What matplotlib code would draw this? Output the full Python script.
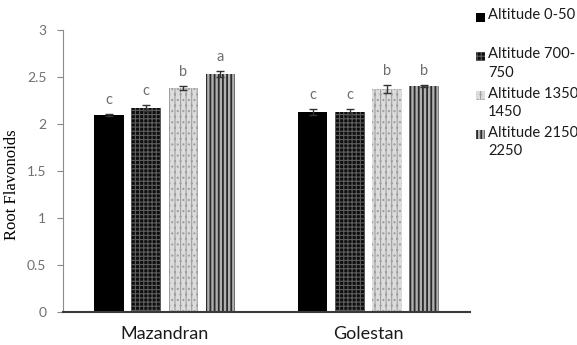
import matplotlib as mpl
import matplotlib.pyplot as plt
import matplotlib.patches as mpatches
import numpy as np

# Data
sites = ['Mazandran', 'Golestan']
altitudes = ['Altitude 0-50', 'Altitude 700-\n750', 'Altitude 1350\n1450', 'Altitude 2150\n2250']
flavonoids = [
    [2.10, 2.13],   # 0-50
    [2.17, 2.13],   # 700-750
    [2.38, 2.37],   # 1350-1450
    [2.53, 2.40],   # 2150-2250
]
errors = [
    [0.01, 0.03],
    [0.03, 0.03],
    [0.02, 0.04],
    [0.03, 0.01],
]
letters = [
    ['c', 'c'],
    ['c', 'c'],
    ['b', 'b'],
    ['a', 'b'],
]

# bar fill styles: (facecolor, hatch, hatch colour, hatch width)
styles = [
    ('black', None, 'black', 1.0),
    ('#0e0e0e', '++++', '#5e5e5e', 0.8),
    ('#dcdcdc', '|||...', '#a0a0a0', 0.8),
    ('#b0b0b0', '||||', '#2a2a2a', 1.3),
]

fig = plt.figure(figsize=(5.77, 3.45), dpi=100)
ax = fig.add_axes([0.1092, 0.0957, 0.7054, 0.8174])

x = np.arange(len(sites))
step = 0.182
width = 0.145
for i, vals in enumerate(flavonoids):
    fc, hatch, hc, hw = styles[i]
    pos = x + (i - 1.5) * step
    with mpl.rc_context({'hatch.linewidth': hw}):
        ax.bar(pos, vals, width, color=fc, hatch=hatch, edgecolor=hc, linewidth=0)
    ax.errorbar(pos, vals, yerr=errors[i], fmt='none', ecolor='#333333',
                elinewidth=1, capsize=3, capthick=1)
    for p, v, e, t in zip(pos, vals, errors[i], letters[i]):
        ax.annotate(t, (p, v + e), xytext=(0, 5), textcoords='offset points',
                    ha='center', va='bottom', color='#6e6e6e',
                    fontsize=10.5, family='Lato')

ax.set_xlim(-0.5, 1.5)
ax.set_ylim(0, 3)
ax.set_yticks([0, 0.5, 1, 1.5, 2, 2.5, 3])
ax.set_yticklabels(['0', '0.5', '1', '1.5', '2', '2.5', '3'])
ax.set_xticks(x)
ax.set_xticklabels(sites, fontsize=13, family='Lato', color='#1a1a1a')
ax.tick_params(axis='x', length=0, pad=10)
ax.tick_params(axis='y', length=4, color='#888888', labelcolor='#707070',
               labelsize=10, pad=8)
for t in ax.get_yticklabels():
    t.set_family('Lato')

ax.spines['top'].set_visible(False)
ax.spines['right'].set_visible(False)
ax.spines['left'].set_color('#8c8c8c')
ax.spines['bottom'].set_color('#3a3a3a')
ax.spines['bottom'].set_linewidth(1.5)

ax.set_ylabel('Root Flavonoids', family='Liberation Serif', fontsize=12)
ax.yaxis.set_label_coords(-0.106, 0.45)

# legend drawn by hand so each swatch sits on the first line of its label
fig_w, fig_h = 577, 345
for i, label in enumerate(altitudes):
    fc, hatch, hc, hw = styles[i]
    yc = 17 + 39.3 * i
    with mpl.rc_context({'hatch.linewidth': hw}):
        sq = mpatches.Rectangle((476 / fig_w, 1 - (yc + 4.5) / fig_h), 9 / fig_w, 9 / fig_h,
                                transform=fig.transFigure, facecolor=fc, hatch=hatch,
                                edgecolor=hc, linewidth=0)
    fig.add_artist(sq)
    fig.text(488 / fig_w, 1 - (yc - 9) / fig_h, label, ha='left', va='top',
             fontsize=10.6, family='Lato', color='#1a1a1a', linespacing=1.4)

fig.savefig('out.png', dpi=100)
